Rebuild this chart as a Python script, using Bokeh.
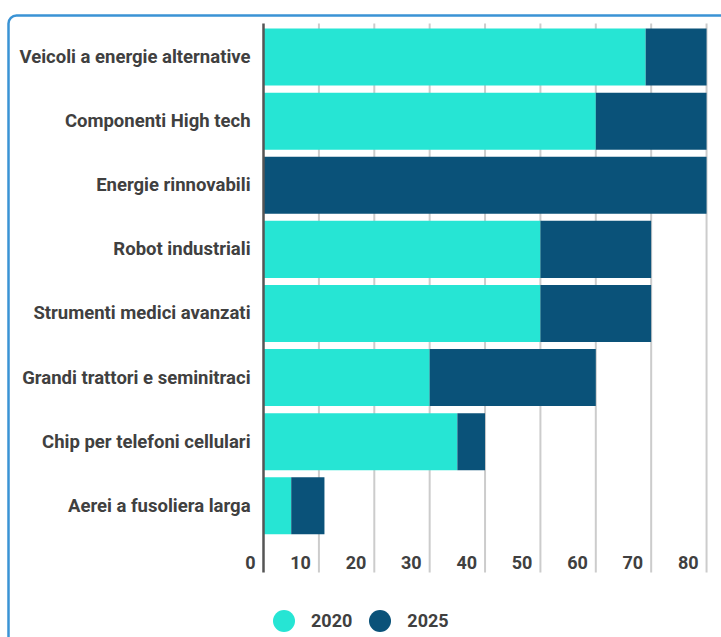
from bokeh.plotting import figure
from bokeh.models import (ColumnDataSource, FixedTicker, Range1d, Legend, LegendItem,
                          BoxAnnotation)
from bokeh.core.properties import value
from bokeh.embed import file_html
from bokeh.resources import INLINE

# ---- data ----
categories = ["Veicoli a energie alternative", "Componenti High tech", "Energie rinnovabili",
              "Robot industriali", "Strumenti medici avanzati", "Grandi trattori e seminitraci",
              "Chip per telefoni cellulari", "Aerei a fusoliera larga"]
series = ["2020", "2025"]
values_2020 = [69, 60, 0, 50, 50, 30, 35, 5]
values_2025 = [11, 20, 80, 20, 20, 30, 5, 6]
x_ticks = [0, 10, 20, 30, 40, 50, 60, 70, 80]
colors = ["#26e5d4", "#0a5279"]

FONT = "Roboto"
TXT = "#404040"

n = len(categories)
ypos = [n - i for i in range(n)]
source = ColumnDataSource(dict(y=ypos, cat=categories,
                               **{series[0]: values_2020, series[1]: values_2025}))

# chart area bounds (data units)
Y_BOTTOM, Y_TOP = -0.04, n + 0.523

p = figure(width=721, height=637, output_backend="svg", toolbar_location=None,
           x_range=Range1d(-47.5, 82.7), y_range=Range1d(-1.055, n + 0.883),
           min_border=0, min_border_left=0, min_border_right=0,
           min_border_top=0, min_border_bottom=0)
p.outline_line_color = None
p.background_fill_color = "white"
p.border_fill_color = "white"
p.grid.visible = False
p.xaxis.visible = False

# vertical grid lines limited to the chart area
grid_src = ColumnDataSource(dict(x=x_ticks[1:], y0=[Y_BOTTOM] * (len(x_ticks) - 1),
                                 y1=[Y_TOP] * (len(x_ticks) - 1)))
p.segment(x0="x", x1="x", y0="y0", y1="y1", source=grid_src,
          line_color="#cccccc", line_width=2)

p.hbar_stack(series, y="y", height=0.89, color=colors, line_color=None, source=source)

# y axis placed at x = 0
p.yaxis.fixed_location = 0
p.yaxis.bounds = (Y_BOTTOM, Y_TOP)
p.yaxis.ticker = FixedTicker(ticks=ypos)
p.yaxis.major_label_overrides = {y: c for y, c in zip(ypos, categories)}
p.yaxis.major_tick_line_color = None
p.yaxis.major_tick_out = 0
p.yaxis.major_tick_in = 0
p.yaxis.minor_tick_line_color = None
p.yaxis.axis_line_color = "#555555"
p.yaxis.axis_line_width = 2.5
p.yaxis.major_label_standoff = 13
p.yaxis.major_label_text_font = FONT
p.yaxis.major_label_text_font_style = "bold"
p.yaxis.major_label_text_font_size = "18.5px"
p.yaxis.major_label_text_color = TXT

# x tick labels in the bottom row of the chart
tick_src = ColumnDataSource(dict(x=x_ticks, y=[0.117] * len(x_ticks), t=[str(v) for v in x_ticks]))
p.text(x="x", y="y", text="t", source=tick_src, text_align="right", text_baseline="middle",
       x_offset=-8, text_font=value(FONT), text_font_style="bold", text_font_size="18px",
       text_color=TXT)

# legend: circle markers of zero size (only their legend glyphs are seen)
r0 = p.scatter(x=series[0], y="y", source=source, marker="circle", size=0,
               fill_color=colors[0], line_color=None)
r1 = p.scatter(x=series[1], y="y", source=source, marker="circle", size=0,
               fill_color=colors[1], line_color=None)
legend = Legend(items=[LegendItem(label=series[0], renderers=[r0]),
                       LegendItem(label=series[1], renderers=[r1])],
                location=(256, -11), orientation="horizontal",
                glyph_width=55, glyph_height=55, padding=0, margin=0, spacing=-3,
                label_standoff=-2, border_line_color=None, background_fill_alpha=0,
                label_text_font=FONT, label_text_font_style="bold",
                label_text_font_size="18px", label_text_color=TXT)
p.add_layout(legend, "center")

# outer rounded border
box = BoxAnnotation(left=8, right=800, top=15, bottom=720,
                    left_units="canvas", right_units="canvas",
                    top_units="canvas", bottom_units="canvas",
                    fill_alpha=0, line_color="#3a93d5", line_alpha=1,
                    line_width=2.5, border_radius=8)
p.add_layout(box)

open("out.html", "w").write(file_html(p, INLINE))
